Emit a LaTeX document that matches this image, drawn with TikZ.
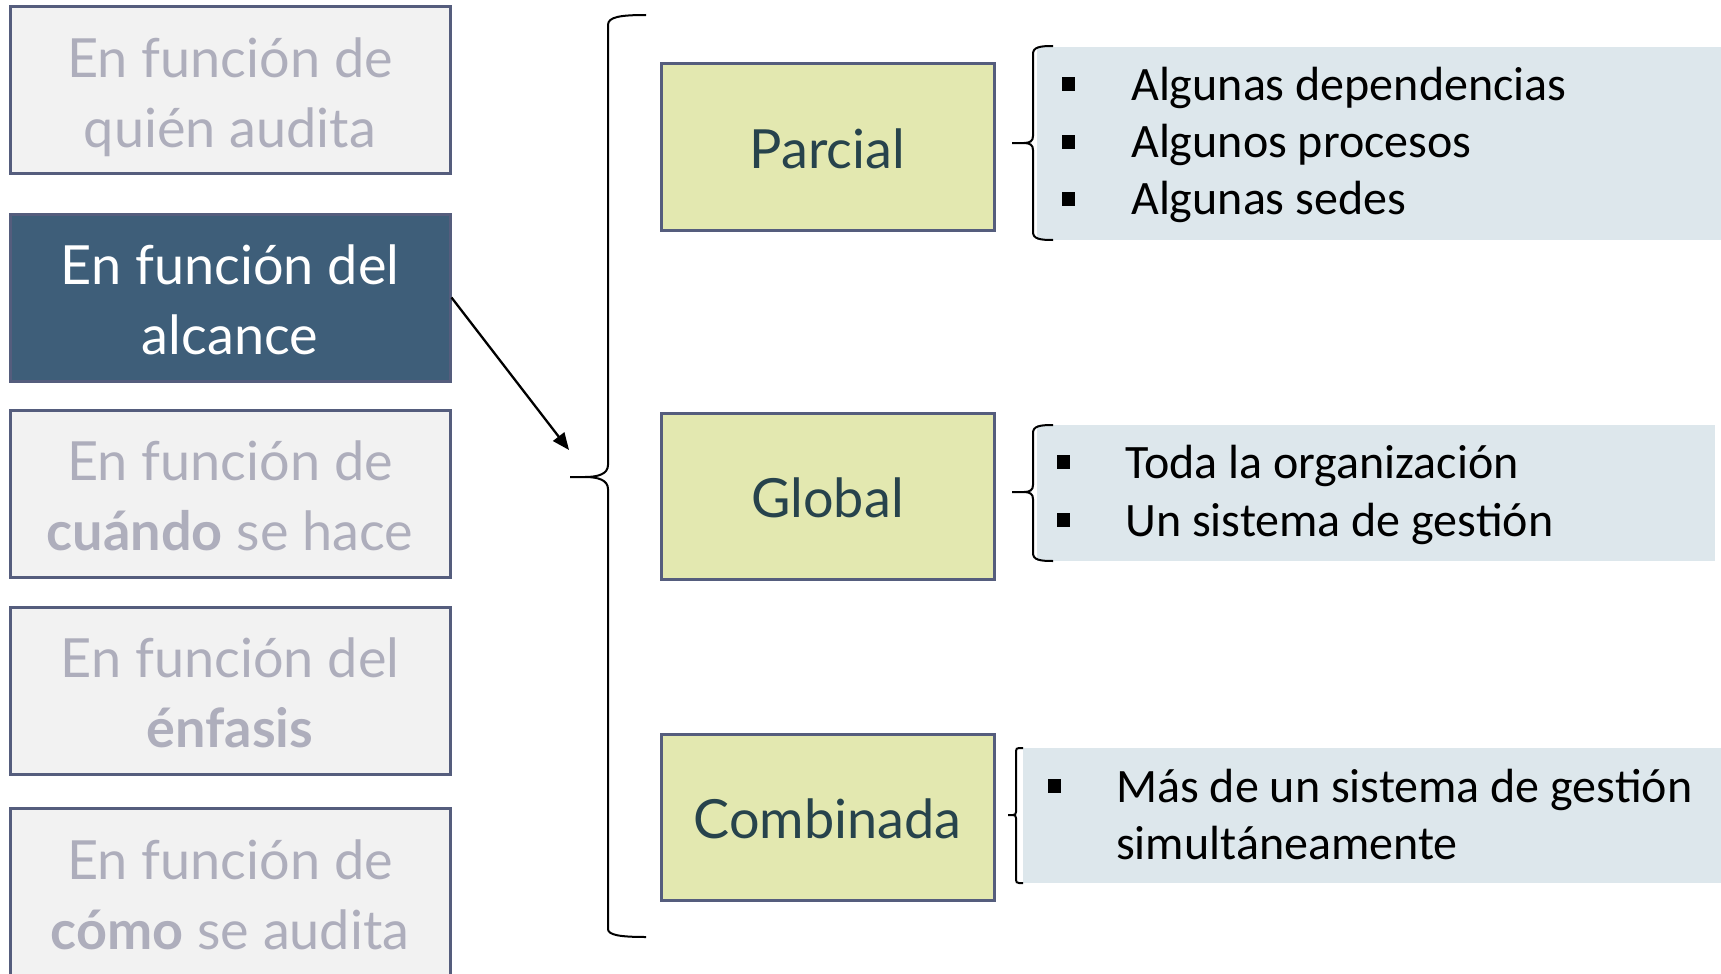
\documentclass[tikz,border=0pt]{standalone}
\usepackage{fontspec}
\setmainfont{Lato}
\newfontfamily\calib{Carlito}
\usetikzlibrary{arrows.meta}
\definecolor{bordc}{HTML}{555D7D}
\definecolor{lightgr}{HTML}{F2F2F2}
\definecolor{graytxt}{HTML}{AEAEBC}
\definecolor{darkbl}{HTML}{3E5E79}
\definecolor{yelgr}{HTML}{E3E8B0}
\definecolor{tealtxt}{HTML}{27434C}
\definecolor{bluebg}{HTML}{DDE7EC}
\newcommand\lstr{\rule[-13pt]{0pt}{70pt}}
\newcommand\cstr{\rule[-16pt]{0pt}{74pt}}
\begin{document}
\begin{tikzpicture}[x=1pt,y=-1pt,
  lbox/.style={draw=bordc, line width=3pt, fill=lightgr, minimum width=440pt,
    minimum height=167pt, inner sep=0pt, text=graytxt, align=center,
    font=\fontsize{54}{70}\selectfont},
  dbox/.style={lbox, fill=darkbl, text=white},
  cbox/.style={draw=bordc, line width=3pt, fill=yelgr, minimum width=333pt,
    minimum height=166pt, inner sep=0pt, text=tealtxt,
    font=\fontsize{54}{70}\selectfont},
  bluebox/.style={fill=bluebg, draw=none, inner sep=0pt},
  bul/.style={fill=black, draw=none, minimum width=13pt, minimum height=14pt, inner sep=0pt},
  itm/.style={anchor=base west, inner sep=0pt, text=black, font=\calib\fontsize{48}{58}\selectfont},
  brc/.style={line width=2pt, draw=black},
  arr/.style={line width=2.3pt, draw=black, -{Triangle[length=17pt,width=14pt]}}
]
\useasboundingbox (0,0) rectangle (1721,974);
\begin{scope}
\clip (0,0) rectangle (1721,974);
% left column
\node[lbox] (b1) at (230,90) {\lstr En función de\\\lstr quién audita};
\node[dbox] (b2) at (230,297.5) {\lstr En función del\\\lstr alcance};
\node[lbox] (b3) at (230,493.5) {\lstr En función de\\\lstr\textbf{cuándo} se hace};
\node[lbox] (b4) at (230,690.5) {\lstr En función del\\\lstr\textbf{énfasis}};
\node[lbox, minimum height=168pt] (b5) at (230,892) {\lstr En función de\\\lstr\textbf{cómo} se audita};
\end{scope}
% big brace and arrow
\coordinate (aend) at (569,450);
\draw[arr] (b2.east) -- (aend);
\draw[brc] (646,15) .. controls (620,15) and (608,17) .. (608,25) -- (608,465)
  .. controls (608,474) and (598,477) .. (585,477) -- (570,477) -- (585,477)
  .. controls (598,477) and (608,480) .. (608,489) -- (608,929)
  .. controls (608,935) and (620,937) .. (646,937);
% centre column
\node[cbox] (parcial) at (827.5,147) {\cstr Parcial};
\node[cbox] (global) at (827.5,496.5) {\cstr Global};
\node[cbox] (comb) at (827.5,817.5) {\cstr Combinada};
% blue panels
\node[bluebox, minimum width=684pt, minimum height=193pt] (r1) at (1379,143.5) {};
\node[bluebox, minimum width=678pt, minimum height=136pt] (r2) at (1376,493) {};
\node[bluebox, minimum width=698pt, minimum height=135pt] (r3) at (1372,815.5) {};
% small braces
\draw[brc] (1053,46) .. controls (1040,46) and (1033,47) .. (1033,54) -- (1033,136)
  .. controls (1033,141) and (1030,143) .. (1024,143) -- (1012,143) -- (1024,143)
  .. controls (1030,143) and (1033,145) .. (1033,150) -- (1033,232)
  .. controls (1033,239) and (1040,240) .. (1053,240);
\draw[brc] (1053,425) .. controls (1040,425) and (1033,426) .. (1033,433) -- (1033,485)
  .. controls (1033,490) and (1030,492) .. (1024,492) -- (1012,492) -- (1024,492)
  .. controls (1030,492) and (1033,494) .. (1033,499) -- (1033,553)
  .. controls (1033,560) and (1040,561) .. (1053,561);
\draw[brc] (1023,748) -- (1019,748) .. controls (1017,748) and (1016,749) .. (1016,751)
  -- (1016,812) .. controls (1016,814) and (1015,815) .. (1013,815) -- (1008,815)
  -- (1013,815) .. controls (1015,815) and (1016,816) .. (1016,818) -- (1016,880)
  .. controls (1016,882) and (1017,883) .. (1019,883) -- (1023,883);
% items
\node[bul] (p1b) at (1068.5,84) {};
\node[bul] (p2b) at (1068.5,141.5) {};
\node[bul] (p3b) at (1068.5,198.5) {};
\node[itm] (p1) at (1131,100) {Algunas dependencias};
\node[itm] (p2) at (1131,157.5) {Algunos procesos};
\node[itm] (p3) at (1131,214.5) {Algunas sedes};
\node[bul] (g1b) at (1063.5,462) {};
\node[bul] (g2b) at (1063.5,520) {};
\node[itm] (g1) at (1125,478) {Toda la organización};
\node[itm] (g2) at (1125,536) {Un sistema de gestión};
\node[bul] (c1b) at (1054.5,786) {};
\node[itm] (c1) at (1116,802) {Más de un sistema de gestión};
\node[itm] (c2) at (1116,859) {simultáneamente};
\end{tikzpicture}
\end{document}
